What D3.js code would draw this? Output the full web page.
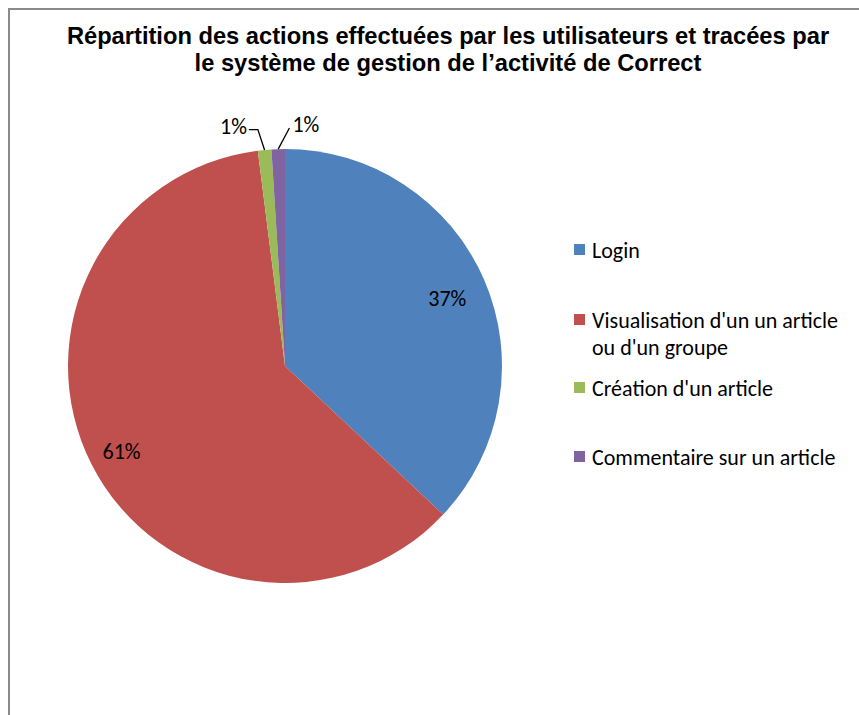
<!DOCTYPE html>
<html>
<head>
<meta charset="utf-8">
<script src="https://cdn.jsdelivr.net/npm/d3@7"></script>
<style>
  body { margin: 0; background: #fff; }
  svg { display: block; }
</style>
</head>
<body>
<div id="vis"></div>
<script>
// chart data
var categories = ['Login', "Visualisation  d'un un article ou d'un groupe", "Création d'un article", 'Commentaire sur un article'];
var legendLines = [['Login'], ["Visualisation  d'un un article", "ou d'un groupe"], ["Création d'un article"], ['Commentaire sur un article']];
var values = [37, 61, 1, 1];
var labels = ['37%', '61%', '1%', '1%'];
var colors = ['#4F81BD', '#C0504D', '#9BBB59', '#8064A2'];
var titleLines = ['Répartition des actions effectuées par les utilisateurs et tracées par',
                  'le système de gestion de l\u2019activité de Correct'];

var width = 859;
var height = 715;
var center = { x: 285, y: 366 };
var radius = 217;

var svg = d3.select('#vis').append('svg')
  .attr('width', width)
  .attr('height', height);

// chart frame (cut at right and bottom)
svg.append('path')
  .attr('d', 'M9,' + height + 'V9H' + width)
  .attr('fill', 'none')
  .attr('stroke', '#8a8a8a')
  .attr('stroke-width', 2);

svg.selectAll('.title')
  .data(titleLines)
  .enter().append('text')
  .attr('class', 'title')
  .attr('x', 448)
  .attr('y', function (d, i) { return 44 + i * 27; })
  .attr('text-anchor', 'middle')
  .attr('font-family', 'Liberation Sans, Arial, sans-serif')
  .attr('font-weight', 'bold')
  .attr('font-size', '23.7px')
  .attr('fill', '#000')
  .text(function (d) { return d; });

var pie = d3.pie().sort(null).value(function (d) { return d; });
var arcs = pie(values);

var arc = d3.arc().innerRadius(0).outerRadius(radius);
var labelArc = d3.arc().innerRadius(radius * 0.83).outerRadius(radius * 0.83);

var g = svg.append('g')
  .attr('transform', 'translate(' + center.x + ',' + center.y + ')');

g.selectAll('.slice')
  .data(arcs)
  .enter().append('path')
  .attr('class', 'slice')
  .attr('d', arc)
  .attr('fill', function (d, i) { return colors[i]; });

function polar(angle, r) {
  return [Math.sin(angle) * r, -Math.cos(angle) * r];
}

var labelFont = 'Carlito, Calibri, Lato, sans-serif';
var labelSize = '22px';

// big slices: label inside
g.selectAll('.inlabel')
  .data(arcs.filter(function (d) { return d.value > 5; }))
  .enter().append('text')
  .attr('class', 'inlabel')
  .attr('transform', function (d) {
    var c = labelArc.centroid(d);
    return 'translate(' + [c[0] - 3, c[1] + 4] + ')';
  })
  .attr('dy', '0.35em')
  .attr('text-anchor', 'middle')
  .attr('font-family', labelFont)
  .attr('font-size', labelSize)
  .attr('fill', '#000')
  .text(function (d) { return labels[d.index]; });

// small slices: label outside with leader line
var angleNudge = { 2: -0.02, 3: 0.05 };
arcs.filter(function (d) { return d.value <= 5; }).forEach(function (d) {
  var mid = (d.startAngle + d.endAngle) / 2;
  var p0 = polar(mid, radius);
  var p1 = polar(mid + angleNudge[d.index], radius + 21);
  var pts = [p0, p1];
  var tx, anchor;
  if (d.index === 2) {
    pts.push([p1[0] - 9, p1[1]]);
    tx = p1[0] - 11; anchor = 'end';
  } else {
    tx = p1[0] + 3; anchor = 'start';
  }
  g.append('path')
    .attr('d', d3.line()(pts))
    .attr('fill', 'none')
    .attr('stroke', '#000')
    .attr('stroke-width', 1.3);
  g.append('text')
    .attr('x', tx)
    .attr('y', p1[1] + 4)
    .attr('text-anchor', anchor)
    .attr('font-family', labelFont)
    .attr('font-size', labelSize)
    .attr('fill', '#000')
    .text(labels[d.index]);
});

// legend
var legendY = [250, 320, 388, 457];
var legend = svg.selectAll('.legend')
  .data(categories)
  .enter().append('g')
  .attr('class', 'legend')
  .attr('transform', function (d, i) { return 'translate(574,' + legendY[i] + ')'; });

legend.append('rect')
  .attr('x', 0)
  .attr('y', -6)
  .attr('width', 11)
  .attr('height', 11)
  .attr('fill', function (d, i) { return colors[i]; });

legend.append('text')
  .attr('font-family', labelFont)
  .attr('font-size', labelSize)
  .attr('fill', '#000')
  .selectAll('tspan')
  .data(function (d, i) { return legendLines[i]; })
  .enter().append('tspan')
  .attr('x', 18)
  .attr('y', function (d, j) { return j * 27; })
  .attr('dy', '0.35em')
  .text(function (d) { return d; });
</script>
</body>
</html>
